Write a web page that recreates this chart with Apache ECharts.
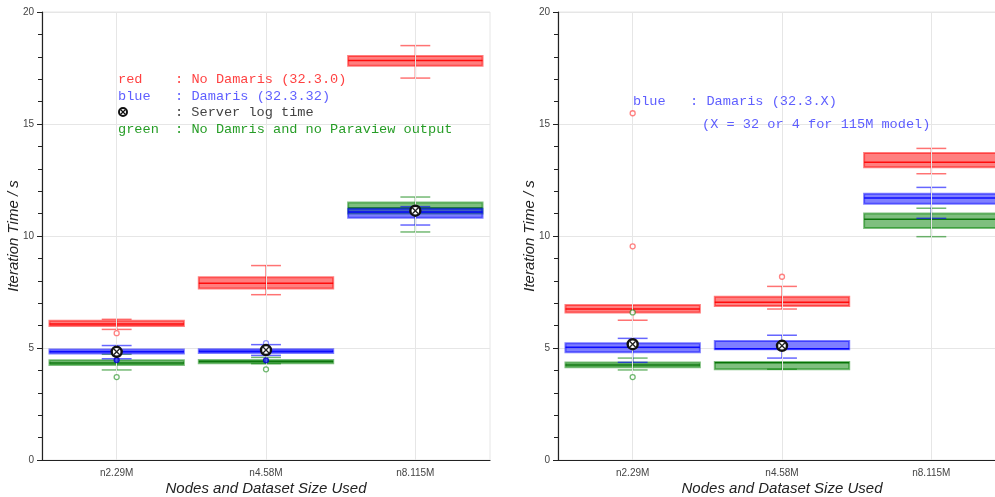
<!DOCTYPE html>
<html><head><meta charset="utf-8">
<script src="https://cdn.jsdelivr.net/npm/echarts@6/dist/echarts.min.js"></script>
<style>html,body{margin:0;padding:0;background:#fff}#c{width:995px;height:497px}</style>
</head><body><div id="c"></div>
<script>
const categories = ['n2.29M', 'n4.58M', 'n8.115M'];
const yTicks = [0, 5, 10, 15, 20];
// box stats per category: [lowerCap, q1, median, q3, upperCap]
const leftRed   = [[5.83, 5.98, 6.07, 6.22, 6.28], [7.38, 7.66, 7.89, 8.16, 8.68], [17.05, 17.60, 17.83, 18.04, 18.50]];
const leftBlue  = [[4.52, 4.75, 4.83, 4.93, 5.11], [4.67, 4.78, 4.86, 4.94, 5.15], [10.49, 10.82, 11.07, 11.22, 11.31]];
const leftGreen = [[4.02, 4.24, 4.33, 4.45, 4.72], [4.30, 4.32, 4.40, 4.46, 4.58], [10.18, 11.00, 11.25, 11.49, 11.74]];
const leftServer = [4.83, 4.91, 11.13];
// outliers: [categoryIndex, value]
const leftRedOut = [[0, 5.66]];
const leftBlueOutOpen = [[1, 5.22]];
const leftBlueOutFilled = [[0, 4.46], [1, 4.45]];
const leftGreenOut = [[0, 3.70], [1, 4.05]];

const rightRed   = [[6.24, 6.59, 6.74, 6.92, 6.92], [6.74, 6.88, 7.04, 7.29, 7.75], [12.78, 13.07, 13.29, 13.71, 13.91]];
const rightBlue  = [[4.36, 4.81, 5.03, 5.21, 5.43], [4.55, 4.94, 4.97, 5.31, 5.57], [10.79, 11.44, 11.70, 11.89, 12.17]];
const rightGreen = [[4.02, 4.14, 4.24, 4.35, 4.55], [4.05, 4.05, 4.34, 4.38, 4.40], [9.97, 10.36, 10.75, 11.01, 11.24]];
const rightServer = [5.17, 5.10];
const rightRedOut = [[0, 15.48], [0, 9.54], [1, 8.18]];
const rightGreenOut = [[0, 3.70], [0, 6.59]];

const FONT = "'Liberation Sans', Arial, sans-serif";
const MONO = "'Liberation Mono', 'Courier New', monospace";

const palette = {
  red:   {fill: 'rgba(255,0,0,0.5)', edge: 'rgba(255,0,0,0.5)', med: 'rgba(255,0,0,0.9)', wh: 'rgba(255,0,0,0.55)'},
  blue:  {fill: 'rgba(0,0,255,0.5)', edge: 'rgba(0,0,255,0.5)', med: 'rgba(0,0,255,0.9)', wh: 'rgba(0,0,255,0.6)'},
  green: {fill: 'rgba(0,128,0,0.5)', edge: 'rgba(0,128,0,0.5)', med: 'rgba(0,110,0,0.9)', wh: 'rgba(0,128,0,0.55)'}
};

function boxSeries(stats, col, axisIdx, z) {
  const c = palette[col];
  return {
    type: 'custom', xAxisIndex: axisIdx, yAxisIndex: axisIdx, z: z, silent: true,
    encode: {x: 0, y: [1, 2, 3, 4, 5]},
    data: stats.map((s, i) => [i].concat(s)),
    renderItem: function (params, api) {
      const idx = api.value(0);
      const band = api.size([1, 0])[0];
      const bw = band * 0.9, cw = band * 0.2;
      const pLo = api.coord([idx, api.value(1)]);
      const pQ1 = api.coord([idx, api.value(2)]);
      const pMed = api.coord([idx, api.value(3)]);
      const pQ3 = api.coord([idx, api.value(4)]);
      const pHi = api.coord([idx, api.value(5)]);
      const x = pMed[0];
      const ch = [];
      const wl = {stroke: c.wh, lineWidth: 1.5};
      ch.push({type: 'line', shape: {x1: x, y1: pLo[1], x2: x, y2: pHi[1]}, style: wl});
      if (pHi[1] < pQ3[1] - 0.5) {
        ch.push({type: 'line', shape: {x1: x - cw / 2, y1: pHi[1], x2: x + cw / 2, y2: pHi[1]}, style: wl});
      }
      ch.push({type: 'line', shape: {x1: x - cw / 2, y1: pLo[1], x2: x + cw / 2, y2: pLo[1]}, style: wl});
      ch.push({type: 'rect', shape: {x: x - bw / 2, y: pQ3[1], width: bw, height: Math.max(pQ1[1] - pQ3[1], 1)},
        style: {fill: c.fill, stroke: c.edge, lineWidth: 2}});
      ch.push({type: 'line', shape: {x1: x - bw / 2, y1: pMed[1], x2: x + bw / 2, y2: pMed[1]}, style: {stroke: c.med, lineWidth: 1.5}});
      return {type: 'group', children: ch};
    }
  };
}

function outlierSeries(data, stroke, fill, axisIdx, z) {
  return {
    type: 'scatter', xAxisIndex: axisIdx, yAxisIndex: axisIdx, z: z, silent: true,
    symbol: 'circle', symbolSize: 5,
    itemStyle: {color: fill, borderColor: stroke, borderWidth: 1.3},
    data: data
  };
}

function serverSeries(vals, axisIdx) {
  return {
    type: 'custom', xAxisIndex: axisIdx, yAxisIndex: axisIdx, z: 20, silent: true,
    encode: {x: 0, y: 1},
    data: vals.map((v, i) => [i, v]),
    renderItem: function (params, api) {
      const p = api.coord([api.value(0), api.value(1)]);
      const r = 5, d = 3.0;
      return {type: 'group', children: [
        {type: 'circle', shape: {cx: p[0], cy: p[1], r: r}, style: {fill: '#fff', stroke: '#111', lineWidth: 2.4}},
        {type: 'line', shape: {x1: p[0] - d, y1: p[1] - d, x2: p[0] + d, y2: p[1] + d}, style: {stroke: '#222', lineWidth: 1.3}},
        {type: 'line', shape: {x1: p[0] - d, y1: p[1] + d, x2: p[0] + d, y2: p[1] - d}, style: {stroke: '#222', lineWidth: 1.3}}
      ]};
    }
  };
}

function gridLines(axisIdx) {
  return {
    type: 'scatter', xAxisIndex: axisIdx, yAxisIndex: axisIdx, data: [], z: 0, silent: true,
    markLine: {
      silent: true, symbol: 'none', label: {show: false},
      lineStyle: {color: '#e6e6e6', width: 1, type: 'solid'},
      data: categories.map(c => ({xAxis: c}))
    }
  };
}

function xAxis(gi) {
  return {
    type: 'category', gridIndex: gi, data: categories,
    name: 'Nodes and Dataset Size Used', nameLocation: 'middle', nameGap: 21, nameMoveOverlap: false,
    nameTextStyle: {fontFamily: FONT, fontStyle: 'italic', fontSize: 15, color: '#222'},
    axisLine: {lineStyle: {color: '#222', width: 1.2}},
    axisTick: {alignWithLabel: true, length: 5, lineStyle: {color: '#222'}},
    axisLabel: {fontFamily: FONT, fontSize: 10, color: '#444', margin: 8},
    splitLine: {show: false}
  };
}
function yAxis(gi) {
  return {
    type: 'value', gridIndex: gi, min: yTicks[0], max: yTicks[yTicks.length - 1], interval: yTicks[1] - yTicks[0],
    name: 'Iteration Time / s', nameLocation: 'middle', nameGap: 21, nameMoveOverlap: false,
    nameTextStyle: {fontFamily: FONT, fontStyle: 'italic', fontSize: 15, color: '#222'},
    axisLine: {show: true, lineStyle: {color: '#222', width: 1.2}},
    axisTick: {show: true, length: 5, lineStyle: {color: '#222'}},
    minorTick: {show: true, splitNumber: 5, length: 4, lineStyle: {color: '#222'}},
    axisLabel: {fontFamily: FONT, fontSize: 10, color: '#444', margin: 8},
    splitLine: {show: true, lineStyle: {color: '#e6e6e6', width: 1}}
  };
}

const chart = echarts.init(document.getElementById('c'), null, {renderer: 'canvas'});

function legendMarker(cx, cy) {
  return {type: 'group', children: [
    {type: 'circle', shape: {cx: cx, cy: cy, r: 4}, style: {fill: '#fff', stroke: '#111', lineWidth: 2}},
    {type: 'line', shape: {x1: cx - 2.5, y1: cy - 2.5, x2: cx + 2.5, y2: cy + 2.5}, style: {stroke: '#111', lineWidth: 1.3}},
    {type: 'line', shape: {x1: cx - 2.5, y1: cy + 2.5, x2: cx + 2.5, y2: cy - 2.5}, style: {stroke: '#111', lineWidth: 1.3}}
  ]};
}
function txt(x, y, s, color) {
  return {type: 'text', x: x, y: y, z: 100, style: {text: s, fill: color, font: '13.6px ' + MONO, textVerticalAlign: 'middle', textAlign: 'left'}};
}

chart.setOption({
  animation: false,
  grid: [
    {left: 42, top: 12, width: 448, height: 448, outerBoundsMode: 'none', containLabel: false, show: true, borderColor: '#e6e6e6', borderWidth: 1, backgroundColor: 'transparent'},
    {left: 558, top: 12, width: 448, height: 448, outerBoundsMode: 'none', containLabel: false, show: true, borderColor: '#e6e6e6', borderWidth: 1, backgroundColor: 'transparent'}
  ],
  xAxis: [xAxis(0), xAxis(1)],
  yAxis: [yAxis(0), yAxis(1)],
  series: [
    gridLines(0), gridLines(1),
    boxSeries(leftRed, 'red', 0, 2), boxSeries(leftGreen, 'green', 0, 3), boxSeries(leftBlue, 'blue', 0, 4),
    outlierSeries(leftRedOut, 'rgba(255,60,60,0.8)', '#fff', 0, 10),
    outlierSeries(leftGreenOut, 'rgba(0,128,0,0.7)', '#fff', 0, 10),
    outlierSeries(leftBlueOutOpen, 'rgba(60,60,255,0.7)', '#fff', 0, 10),
    outlierSeries(leftBlueOutFilled, '#0000cc', '#3333ff', 0, 10),
    serverSeries(leftServer, 0),
    boxSeries(rightRed, 'red', 1, 2), boxSeries(rightGreen, 'green', 1, 3), boxSeries(rightBlue, 'blue', 1, 4),
    outlierSeries(rightRedOut, 'rgba(255,60,60,0.8)', '#fff', 1, 10),
    outlierSeries(rightGreenOut, 'rgba(0,128,0,0.7)', '#fff', 1, 10),
    serverSeries(rightServer, 1)
  ],
  graphic: [
    txt(118, 79, 'red    : No Damaris (32.3.0)', 'rgba(255,30,30,0.85)'),
    txt(118, 96, 'blue   : Damaris (32.3.32)', 'rgba(40,40,255,0.75)'),
    legendMarker(123, 112),
    txt(175, 112, ': Server log time', '#444'),
    txt(118, 129, 'green  : No Damris and no Paraview output', 'rgba(0,140,0,0.85)'),
    txt(633, 101, 'blue   : Damaris (32.3.X)', 'rgba(40,40,255,0.75)'),
    txt(702, 124, '(X = 32 or 4 for 115M model)', 'rgba(40,40,255,0.75)')
  ]
});
</script></body></html>
